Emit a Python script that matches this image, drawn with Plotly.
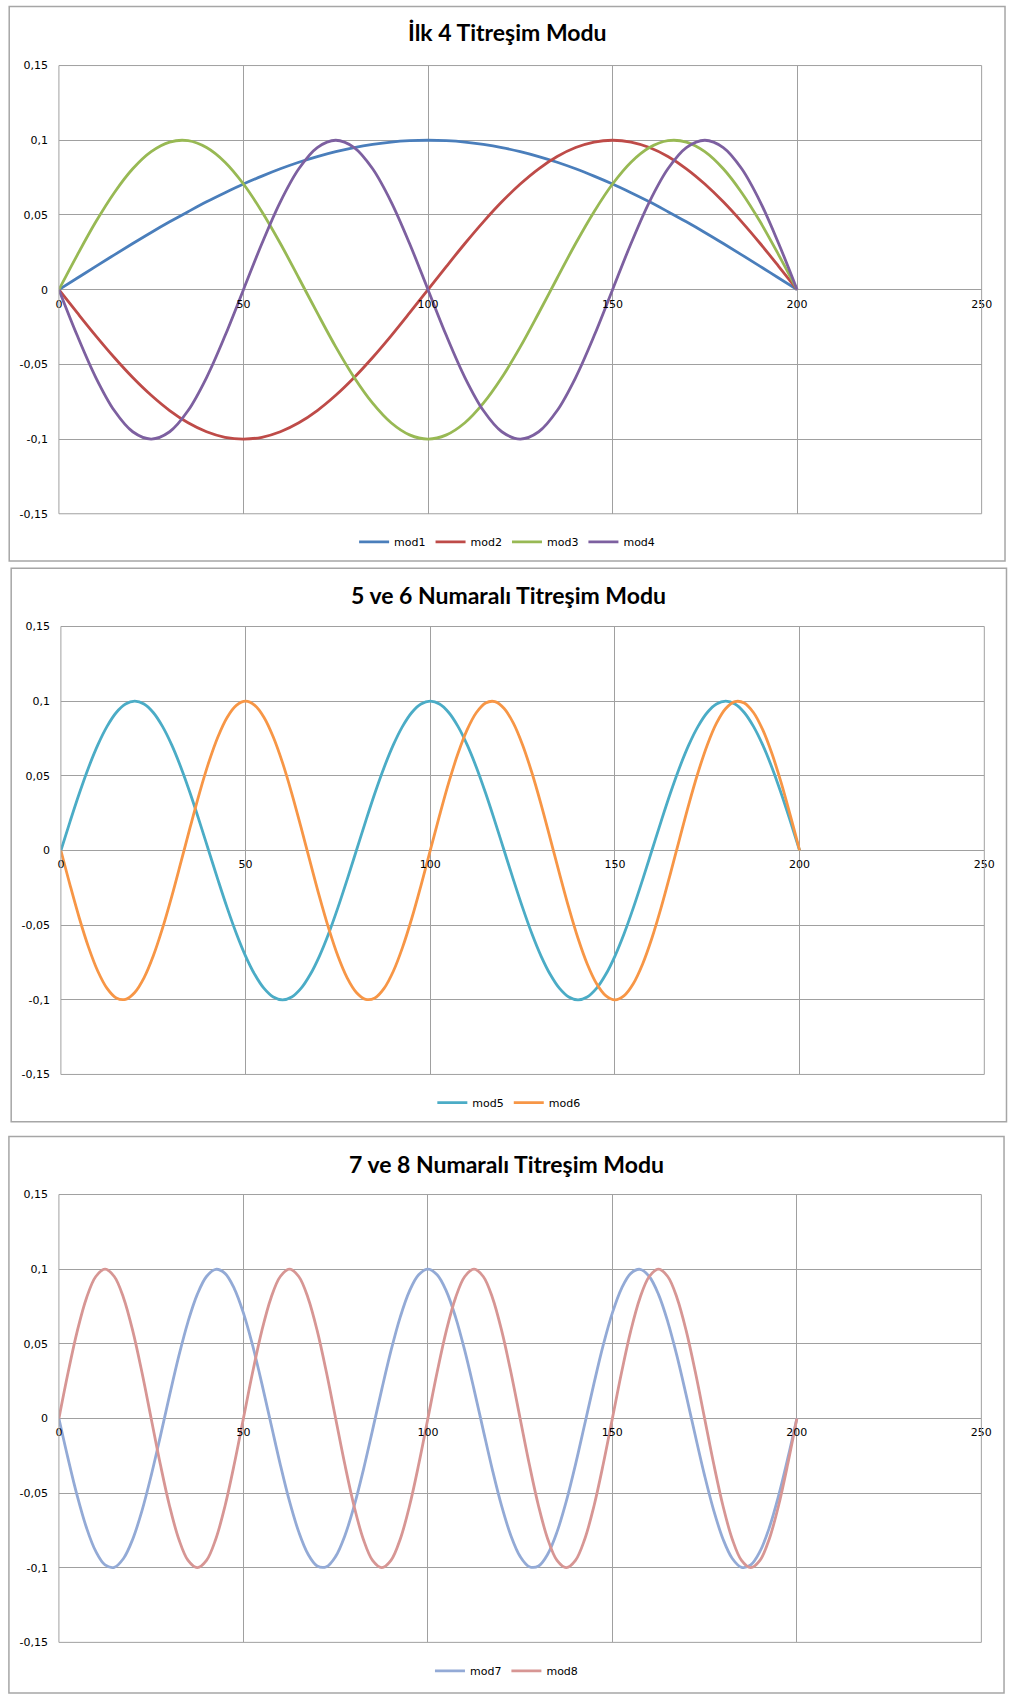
import plotly.graph_objects as go

# ---------------- data ----------------
x = [0, 5, 10, 15, 20, 25, 30, 35, 40, 45, 50, 55, 60, 65, 70, 75, 80, 85, 90, 95,
     100, 105, 110, 115, 120, 125, 130, 135, 140, 145, 150, 155, 160, 165, 170, 175,
     180, 185, 190, 195, 200]
x_fine = [0, 2.5, 5, 7.5, 10, 12.5, 15, 17.5, 20, 22.5, 25, 27.5, 30, 32.5, 35, 37.5,
          40, 42.5, 45, 47.5, 50, 52.5, 55, 57.5, 60, 62.5, 65, 67.5, 70, 72.5, 75, 77.5,
          80, 82.5, 85, 87.5, 90, 92.5, 95, 97.5, 100, 102.5, 105, 107.5, 110, 112.5, 115,
          117.5, 120, 122.5, 125, 127.5, 130, 132.5, 135, 137.5, 140, 142.5, 145, 147.5,
          150, 152.5, 155, 157.5, 160, 162.5, 165, 167.5, 170, 172.5, 175, 177.5, 180,
          182.5, 185, 187.5, 190, 192.5, 195, 197.5, 200]

mod1 = [0, .0078, .0156, .0233, .0309, .0383, .0454, .0522, .0588, .0649,
        .0707, .0760, .0809, .0853, .0891, .0924, .0951, .0972, .0988, .0997,
        .1000, .0997, .0988, .0972, .0951, .0924, .0891, .0853, .0809, .0760,
        .0707, .0649, .0588, .0522, .0454, .0383, .0309, .0233, .0156, .0078, 0]
mod2 = [0, -.0156, -.0309, -.0454, -.0588, -.0707, -.0809, -.0891, -.0951, -.0988,
        -.1000, -.0988, -.0951, -.0891, -.0809, -.0707, -.0588, -.0454, -.0309, -.0156,
        0, .0156, .0309, .0454, .0588, .0707, .0809, .0891, .0951, .0988,
        .1000, .0988, .0951, .0891, .0809, .0707, .0588, .0454, .0309, .0156, 0]
mod3 = [0, .0233, .0454, .0649, .0809, .0924, .0988, .0997, .0951, .0853,
        .0707, .0522, .0309, .0078, -.0156, -.0383, -.0588, -.0760, -.0891, -.0972,
        -.1000, -.0972, -.0891, -.0760, -.0588, -.0383, -.0156, .0078, .0309, .0522,
        .0707, .0853, .0951, .0997, .0988, .0924, .0809, .0649, .0454, .0233, 0]
mod4 = [0, -.0309, -.0588, -.0809, -.0951, -.1000, -.0951, -.0809, -.0588, -.0309,
        0, .0309, .0588, .0809, .0951, .1000, .0951, .0809, .0588, .0309,
        0, -.0309, -.0588, -.0809, -.0951, -.1000, -.0951, -.0809, -.0588, -.0309,
        0, .0309, .0588, .0809, .0951, .1000, .0951, .0809, .0588, .0309, 0]
mod5 = [0, .0195, .0383, .0556, .0707, .0831, .0924, .0981, .1000, .0981,
        .0924, .0831, .0707, .0556, .0383, .0195, 0, -.0195, -.0383, -.0556,
        -.0707, -.0831, -.0924, -.0981, -.1000, -.0981, -.0924, -.0831, -.0707, -.0556,
        -.0383, -.0195, 0, .0195, .0383, .0556, .0707, .0831, .0924, .0981,
        .1000, .0981, .0924, .0831, .0707, .0556, .0383, .0195, 0, -.0195,
        -.0383, -.0556, -.0707, -.0831, -.0924, -.0981, -.1000, -.0981, -.0924, -.0831,
        -.0707, -.0556, -.0383, -.0195, 0, .0195, .0383, .0556, .0707, .0831,
        .0924, .0981, .1000, .0981, .0924, .0831, .0707, .0556, .0383, .0195,
        0]
mod6 = [0, -.0233, -.0454, -.0649, -.0809, -.0924, -.0988, -.0997, -.0951, -.0853,
        -.0707, -.0522, -.0309, -.0078, .0156, .0383, .0588, .0760, .0891, .0972,
        .1000, .0972, .0891, .0760, .0588, .0383, .0156, -.0078, -.0309, -.0522,
        -.0707, -.0853, -.0951, -.0997, -.0988, -.0924, -.0809, -.0649, -.0454, -.0233,
        0, .0233, .0454, .0649, .0809, .0924, .0988, .0997, .0951, .0853,
        .0707, .0522, .0309, .0078, -.0156, -.0383, -.0588, -.0760, -.0891, -.0972,
        -.1000, -.0972, -.0891, -.0760, -.0588, -.0383, -.0156, .0078, .0309, .0522,
        .0707, .0853, .0951, .0997, .0988, .0924, .0809, .0649, .0454, .0233,
        0]
mod7 = [0, -.0271, -.0522, -.0734, -.0891, -.0981, -.0997, -.0938, -.0809, -.0619,
        -.0383, -.0118, .0156, .0419, .0649, .0831, .0951, .0999, .0972, .0872,
        .0707, .0489, .0233, -.0039, -.0309, -.0556, -.0760, -.0908, -.0988, -.0993,
        -.0924, -.0785, -.0588, -.0346, -.0078, .0195, .0454, .0679, .0853, .0962,
        .1000, .0962, .0853, .0679, .0454, .0195, -.0078, -.0346, -.0588, -.0785,
        -.0924, -.0993, -.0988, -.0908, -.0760, -.0556, -.0309, -.0039, .0233, .0489,
        .0707, .0872, .0972, .0999, .0951, .0831, .0649, .0419, .0156, -.0118,
        -.0383, -.0619, -.0809, -.0938, -.0997, -.0981, -.0891, -.0734, -.0522, -.0271,
        0]
mod8 = [0, .0309, .0588, .0809, .0951, .1000, .0951, .0809, .0588, .0309,
        0, -.0309, -.0588, -.0809, -.0951, -.1000, -.0951, -.0809, -.0588, -.0309,
        0, .0309, .0588, .0809, .0951, .1000, .0951, .0809, .0588, .0309,
        0, -.0309, -.0588, -.0809, -.0951, -.1000, -.0951, -.0809, -.0588, -.0309,
        0, .0309, .0588, .0809, .0951, .1000, .0951, .0809, .0588, .0309,
        0, -.0309, -.0588, -.0809, -.0951, -.1000, -.0951, -.0809, -.0588, -.0309,
        0, .0309, .0588, .0809, .0951, .1000, .0951, .0809, .0588, .0309,
        0, -.0309, -.0588, -.0809, -.0951, -.1000, -.0951, -.0809, -.0588, -.0309,
        0]

titles = ["İlk 4 Titreşim Modu", "5 ve 6 Numaralı Titreşim Modu", "7 ve 8 Numaralı Titreşim Modu"]
y_tickvals = [-0.15, -0.1, -0.05, 0, 0.05, 0.1, 0.15]
y_ticktext = ["-0,15", "-0,1", "-0,05", "0", "0,05", "0,1", "0,15"]
x_tickvals = [0, 50, 100, 150, 200, 250]
x_ticktext = ["0", "50", "100", "150", "200", "250"]

panels = [
    [("mod1", x, mod1), ("mod2", x, mod2), ("mod3", x, mod3), ("mod4", x, mod4)],
    [("mod5", x_fine, mod5), ("mod6", x_fine, mod6)],
    [("mod7", x_fine, mod7), ("mod8", x_fine, mod8)],
]

# ---------------- styling / layout ----------------
W, H = 1017, 1697
colors = {"mod1": "#4A7EBB", "mod2": "#BE4B48", "mod3": "#98B954", "mod4": "#7D60A0",
          "mod5": "#4BACC6", "mod6": "#F79646", "mod7": "#93AAD6", "mod8": "#D79694"}
GRID = "#A0A0A0"
geo = [
    dict(px=(56.7, 992.3), py=(60.0, 511.7), box=(6.3, 0.5, 1016.0, 559.3), ty=26.7, ly=540),
    dict(px=(58.7, 995.0), py=(625.3, 1076.7), box=(8.3, 566.7, 1017.5, 1124.3), ty=593.5, ly=1105),
    dict(px=(56.7, 992.0), py=(1197.7, 1649.0), box=(6.0, 1139.3, 1015.0, 1700.0), ty=1166.6, ly=1677.7),
]


def fx(p):
    return p / W


def fy(p):
    return 1 - p / H


fig = go.Figure()
layout = dict(width=W, height=H, margin=dict(l=0, r=0, t=0, b=0),
              paper_bgcolor="white", plot_bgcolor="white", showlegend=True,
              shapes=[], annotations=[])

for i, (series, g) in enumerate(zip(panels, geo), start=1):
    xa = "x" if i == 1 else f"x{i}"
    ya = "y" if i == 1 else f"y{i}"
    lg = "legend" if i == 1 else f"legend{i}"
    for name, xs, vals in series:
        fig.add_trace(go.Scatter(
            x=xs, y=vals, name=name, mode="lines", xaxis=xa, yaxis=ya, legend=lg,
            line=dict(color=colors[name], width=2.8, shape="spline", smoothing=1.0)))
    ydom = [fy(g["py"][1]), fy(g["py"][0])]
    xdom = [fx(g["px"][0]), fx(g["px"][1])]
    suffix = str(i) if i > 1 else ""
    layout["xaxis" + suffix] = dict(
        domain=xdom, range=[0, 250], tickvals=x_tickvals, ticktext=x_ticktext,
        showgrid=True, gridcolor=GRID, gridwidth=1, zeroline=False, showline=False,
        anchor="free", position=(ydom[0] + ydom[1]) / 2, ticks="", ticklabelstandoff=6,
        tickfont=dict(family="DejaVu Sans", size=11, color="#000000"), fixedrange=True)
    layout["yaxis" + suffix] = dict(
        domain=ydom, range=[-0.15, 0.15], tickvals=y_tickvals, ticktext=y_ticktext,
        showgrid=True, gridcolor=GRID, gridwidth=1, zeroline=False, showline=False,
        anchor=xa, ticks="", ticklabelstandoff=10,
        tickfont=dict(family="DejaVu Sans", size=11, color="#000000"), fixedrange=True)
    layout[lg] = dict(orientation="h", x=0.5 * (g["box"][0] + g["box"][2]) / W, xanchor="center",
                      y=fy(g["ly"]), yanchor="middle", bgcolor="rgba(0,0,0,0)",
                      font=dict(family="DejaVu Sans", size=11, color="#000000"),
                      itemwidth=30, tracegroupgap=0)
    layout["shapes"].append(dict(type="rect", xref="paper", yref="paper",
                                 x0=xdom[0], x1=xdom[1], y0=ydom[0], y1=ydom[1],
                                 line=dict(color=GRID, width=1)))
    bx0, by0, bx1, by1 = g["box"]
    layout["shapes"].append(dict(type="rect", xref="paper", yref="paper",
                                 x0=fx(bx0), x1=fx(bx1), y0=fy(by1), y1=fy(by0),
                                 line=dict(color="#A6A6A6", width=1.5)))
    layout["annotations"].append(dict(
        text=f"<b>{titles[i-1]}</b>", xref="paper", yref="paper",
        x=0.5 * (bx0 + bx1) / W, y=fy(g["ty"]), xanchor="center", yanchor="middle",
        showarrow=False, font=dict(family="Lato", size=23, color="#000000")))

fig.update_layout(**layout)
fig.write_html("out.html")
